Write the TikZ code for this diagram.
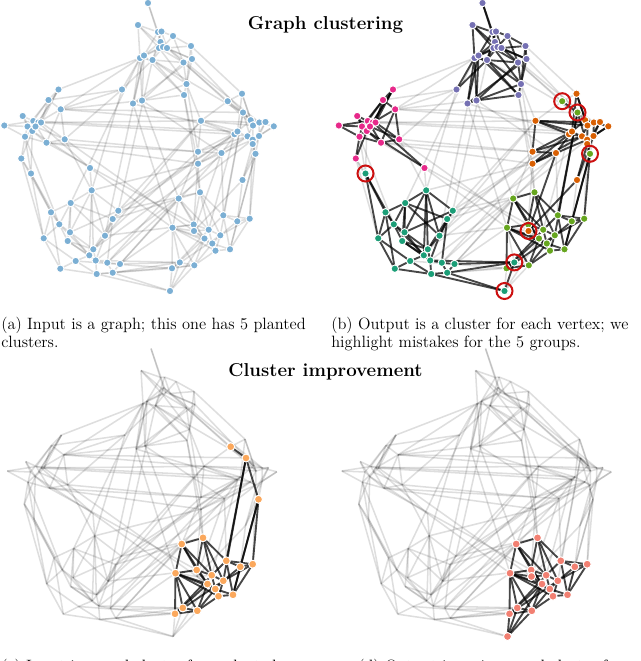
\documentclass[tikz,border=0pt]{standalone}
\definecolor{cblue}{RGB}{123,175,212}
\definecolor{colP}{HTML}{7570B3}
\definecolor{colK}{HTML}{E7298A}
\definecolor{colO}{HTML}{D95F02}
\definecolor{colG}{HTML}{66A61E}
\definecolor{colT}{HTML}{1B9E77}
\definecolor{colC}{RGB}{251,168,92}
\definecolor{colD}{RGB}{242,128,114}
\definecolor{mistake}{RGB}{204,16,16}

\newcommand\nodelist{P1/148/3/P/0/0, P2/138/25/P/0/0, P3/158/32/P/0/0, P4/161.5/31.5/P/0/0, P5/173/36/P/0/0,
P6/160.5/42/P/0/0, P7/159/48/P/0/0, P8/163/47/P/0/0, P9/167/48/P/0/0, P10/191/46/P/0/0,
P11/140/58/P/0/0, P12/144/55.5/P/0/0, P13/152.5/60/P/0/0, P14/183.5/62.5/P/0/0, P15/192/59/P/0/0,
P16/186.5/84/P/0/0, P17/122/89.5/P/0/0, P18/184/95/P/0/0, P19/133/103.5/P/0/0, P20/142/100.5/P/0/0,
K1/58.5/89.5/K/0/0, K2/48.5/100/K/0/0, K3/60.7/109.3/K/0/0, K4/22.7/116/K/0/0, K5/4.3/125.5/K/0/0,
K6/33.3/121/K/0/0, K7/38.3/122.5/K/0/0, K8/41/122.5/K/0/0, K9/27.5/126.5/K/0/0, K10/32.3/131/K/0/0,
K11/25/136.7/K/0/0, K12/46.5/142.7/K/0/0, K13/64.7/139.3/K/0/0, K14/21.3/158.5/K/0/0, K15/90/168/K/0/0,
K16/35.5/126.5/K/0/0, T0/31/173.5/T/0/0,
O1/242/93.7/O/0/0, O2/201/120.8/O/0/0, O3/250.7/120.2/O/0/0, O4/253/125.5/O/0/0, O5/259.3/122.5/O/0/0,
O6/265.5/122/O/0/0, O7/273.8/126.3/O/0/0, O8/234.5/134.2/O/0/0, O9/237.5/131.5/O/0/0, O10/247.5/136.3/O/0/0,
O11/252.7/139.7/O/0/0, O12/252.7/144/O/0/0, O13/259/136/O/0/0, O14/198/151.7/O/0/0, O15/221.5/153/O/0/0,
O16/198/163.7/O/0/0, O17/242.5/180/O/0/0,
Ga/227.7/101.2/G/1/0, Gb/243/112.5/G/1/0, Gc/255.5/153.8/G/1/0,
G1/178.7/198.5/G/1/1, G2/200/192.3/G/1/1, G3/223.3/215.3/G/1/1, G4/237.3/221.3/G/1/1, G5/249.7/218.7/G/1/1,
G6/172.5/227.7/G/1/1, G7/193.7/224.5/G/1/1, G9/208.7/229.7/G/1/1, G10/220.3/235.3/G/1/1, G11/204.5/238.5/G/1/1,
G12/212.3/243.5/G/1/1, G13/215.5/250.7/G/1/1, G14/230/249.3/G/1/1, G15/172/268.3/G/1/1, G16/194.3/265.3/G/1/1,
Oa/194/231/O/0/1, Ta/179.8/262.4/T/1/1, Tb/170/291/T/0/1,
T1/91.7/190.3/T/0/0, T2/70.7/203/T/0/0, T3/51/212.3/T/0/0, T4/118.3/210.7/T/0/0, T5/112.7/219/T/0/0,
T6/59.3/224.3/T/0/0, T7/70/232.3/T/0/0, T8/67.7/241/T/0/0, T9/43.7/238.3/T/0/0, T10/105/235.7/T/0/0,
T11/93.3/249.3/T/0/0, T12/89.3/255.3/T/0/0, T13/75.7/261/T/0/0, T14/95.7/260.5/T/0/0, T15/107.3/262.7/T/0/0,
T16/120/264/T/0/0, T17/60.3/268.7/T/0/0, T18/96.7/274/T/0/0, T19/112.7/272.7/T/0/0}

\newcommand\edgelist{P1/P6, P1/P3, P2/P3, P2/P7, P2/P11, P3/P4, P3/P8, P4/P5, P4/P9, P5/P10, P5/P14, P6/P7,
P6/P13, P6/P9, P7/P12, P7/P14, P8/P13, P8/P15, P9/P10, P9/P14, P10/P15, P10/P16, P11/P17, P11/P19,
P11/P13, P12/P20, P12/P19, P12/P6, P13/P16, P13/P18, P14/P16, P14/P20, P15/P18, P16/P20, P17/P13,
P18/P20, P19/P20, P8/P11, P3/P12, P5/P8, P9/P15, P13/P14, P12/P18, P7/P16, P2/P8, P11/P20, P15/P19, P4/P13,
K1/K2, K2/K3, K2/K6, K2/K8, K1/K7, K3/K7, K3/K12, K4/K6, K4/K9, K5/K9, K5/K6, K6/K7, K7/K8, K8/K10,
K9/K10, K9/K11, K10/K12, K11/K14, K10/K14, K12/K13, K8/K13, K7/K15, K10/K15, K6/K12, K16/K7, K16/K11,
K16/K13, K11/K12, K1/K16, K4/K10, K3/K13, K5/K11, K2/K9, K1/K8,
T0/K11, T0/T3, T0/T6, T0/K14, T0/T9, T0/K10,
O1/O3, O1/O4, O2/O8, O2/O9, O2/O5, O3/O4, O3/O5, O4/O6, O4/O10, O5/O6, O5/O7, O6/O13, O7/O13, O8/O9,
O8/O10, O9/O11, O10/O11, O11/O12, O12/O13, O10/O14, O9/O15, O8/O16, O14/O15, O15/O11, O16/O15, O17/O12,
O17/O13, O4/O11, O3/O9, O2/O14, O6/O12, O1/O9, O5/O13, O2/O4, O7/O11, O14/O9, O16/O10,
Oa/O17, Oa/O15, Oa/G7, Oa/G9, Oa/G11, Oa/G6,
Ga/Gb, Gb/Gc, Ga/O1, Ga/O3, Gb/O4, Gb/O3, Gc/O12, Gc/O13, Gc/G5, Gc/G4, Gb/G3, Gc/O17, Gb/G10, Ga/O2, Gc/G14,
G1/G2, G1/G6, G1/G7, G1/G9, G2/G3, G2/G7, G2/G9, G2/G10, G3/G4, G3/G5, G3/G9, G3/G14, G4/G5, G4/G10,
G4/G14, G5/G14, G5/G10, G6/G7, G6/G15, G6/G16, G7/G9, G7/G11, G9/G10, G9/G12, G10/G12, G10/G13, G11/G12,
G11/G13, G12/G13, G13/G14, G15/G16, G15/G11, G16/G13, G6/G11, G12/G14, G16/G11, G15/G10, G6/G12, G1/G11,
G16/G12, G15/G9, G6/G13,
Ta/G15, Ta/G16, Ta/G6, Ta/T16, Ta/T19, Ta/Tb, Tb/G15, Tb/G16, Tb/T19, Tb/T18, Tb/G11,
T1/T2, T1/T4, T1/T7, T1/T10, T1/T11, T1/T12, T2/T3, T2/T6, T2/T7, T2/T8, T2/T10, T3/T6, T3/T9, T4/T5,
T4/T10, T4/T7, T5/T10, T5/T11, T6/T7, T6/T8, T6/T12, T7/T12, T7/T11, T8/T11, T8/T12, T9/T13, T9/T17,
T9/T6, T10/T11, T10/T14, T11/T14, T12/T13, T12/T14, T13/T17, T13/T18, T14/T15, T14/T18, T15/T16,
T15/T19, T16/T19, T17/T18, T18/T19, T5/T15, T8/T14, T2/T5, T3/T17,
P11/K1, K2/P17, K3/P17, K3/Gb, K3/O2, K13/O14, K12/O16, K15/G6, K12/G7, K14/T3, K14/T9, K11/T6,
K13/T1, K15/T1, P17/T1, P12/T10, P11/T2, P13/T4, P14/Ga, P10/O1, P15/O3, P13/O5, P14/O4, P20/G1,
P18/G2, P16/O14, P18/O16, P19/G6, T4/O8, T5/O9, T10/O14, T11/O10, T15/O16, T16/O15, T14/O11, T12/O2,
T16/G6, T19/G15, T15/G1, T4/G2, T10/G7, T18/G16, O14/G1, O16/G2, O16/G7, O15/G3, O17/G4, O12/G5,
O8/G9, K7/O8, K8/O2, K13/G11, K6/O9, P19/O8, P20/O15, P17/K13, K12/O14, T1/O16, T4/O2, T5/G1, P16/O2,
K3/P20, T13/G15, T14/Ta, T16/G1, P12/K3, P6/O5}

% membership tables
\foreach \n/\x/\y/\c/\cc/\dd in \nodelist {%
  \expandafter\xdef\csname gb@\n\endcsname{\c}%
  \expandafter\xdef\csname gc@\n\endcsname{\cc}%
  \expandafter\xdef\csname gd@\n\endcsname{\dd}%
}
\def\dka#1#2{\def\isdark{0}}
\def\dkb#1#2{\edef\xa{\csname gb@#1\endcsname}\edef\xb{\csname gb@#2\endcsname}%
  \ifx\xa\xb\def\isdark{1}\else\def\isdark{0}\fi}
\def\dkc#1#2{\ifnum\csname gc@#1\endcsname\csname gc@#2\endcsname=11\relax\def\isdark{1}\else\def\isdark{0}\fi}
\def\dkd#1#2{\ifnum\csname gd@#1\endcsname\csname gd@#2\endcsname=11\relax\def\isdark{1}\else\def\isdark{0}\fi}

\tikzset{
  lightedge/.style={draw=black, draw opacity=0.13, line width=1.15pt},
  darkedge/.style={draw=black, draw opacity=0.72, line width=1.4pt},
  vtx/.style={circle, inner sep=0pt, minimum size=5.6pt, draw=white, line width=0.75pt},
  bigvtx/.style={circle, inner sep=0pt, minimum size=6pt, draw=white, line width=0.75pt},
  mistakering/.style={circle, inner sep=0pt, minimum size=12pt, draw=mistake, line width=1.5pt},
  titletext/.style={font=\fontsize{14}{17}\selectfont\bfseries, anchor=base, inner sep=0pt},
  captext/.style={font=\fontsize{12.3}{14.5}\selectfont, anchor=base west, inner sep=0pt}
}

\newcommand\panelgraph[1]{%
  \foreach \n/\x/\y/\c/\cc/\dd in \nodelist {\coordinate (\n) at (\x,\y);}
  \foreach \pass in {0,1}{%
    \foreach \u/\v in \edgelist {%
      \csname dk#1\endcsname{\u}{\v}%
      \ifnum\isdark=\pass\relax
        \ifnum\pass=1\relax \draw[darkedge] (\u) -- (\v);
        \else \draw[lightedge] (\u) -- (\v);
        \fi
      \fi
    }%
  }%
}

\begin{document}
\begin{tikzpicture}[x=0.75pt, y=-0.75pt]
\useasboundingbox (0,0) rectangle (640,661);
\clip (0,0) rectangle (640,661);

% (a) input graph
\begin{scope}
  \panelgraph{a}
  \foreach \n/\x/\y/\c/\cc/\dd in \nodelist {\node[vtx, fill=cblue] (a-\n) at (\n) {};}
\end{scope}

% (b) output clusters
\begin{scope}[shift={(334.5,0)}]
  \panelgraph{b}
  \foreach \n/\x/\y/\c/\cc/\dd in \nodelist {\node[vtx, fill=col\c] (b-\n) at (\n) {};}
  \foreach \n in {T0,Ga,Gb,Gc,Oa,Ta,Tb} {\node[mistakering] (ring-\n) at (\n) {};}
\end{scope}

% (c) seed cluster
\begin{scope}[shift={(3,345.5)}]
  \panelgraph{c}
  \foreach \n/\x/\y/\c/\cc/\dd in \nodelist {\ifnum\cc=1\relax \node[bigvtx, fill=colC] (c-\n) at (\n) {};\fi}
\end{scope}

% (d) improved cluster
\begin{scope}[shift={(337.5,345.5)}]
  \panelgraph{d}
  \foreach \n/\x/\y/\c/\cc/\dd in \nodelist {\ifnum\dd=1\relax \node[bigvtx, fill=colD] (d-\n) at (\n) {};\fi}
\end{scope}

% titles
\node[titletext] (title1) at (325.5,29.5) {Graph clustering};
\node[titletext] (title2) at (325.5,376.5) {Cluster improvement};

% captions
\node[captext] (capa1) at (1,329) {(a) Input is a graph; this one has 5 planted};
\node[captext] (capa2) at (1,347) {clusters.};
\node[captext] (capb1) at (331,329) {(b) Output is a cluster for each vertex; we};
\node[captext] (capb2) at (331,347) {highlight mistakes for the 5 groups.};
\node[captext] (capc1) at (1,671) {(c) Input is a seed cluster for a planted};
\node[captext] (capd1) at (358,671) {(d) Output is an improved cluster for a};
\end{tikzpicture}
\end{document}
